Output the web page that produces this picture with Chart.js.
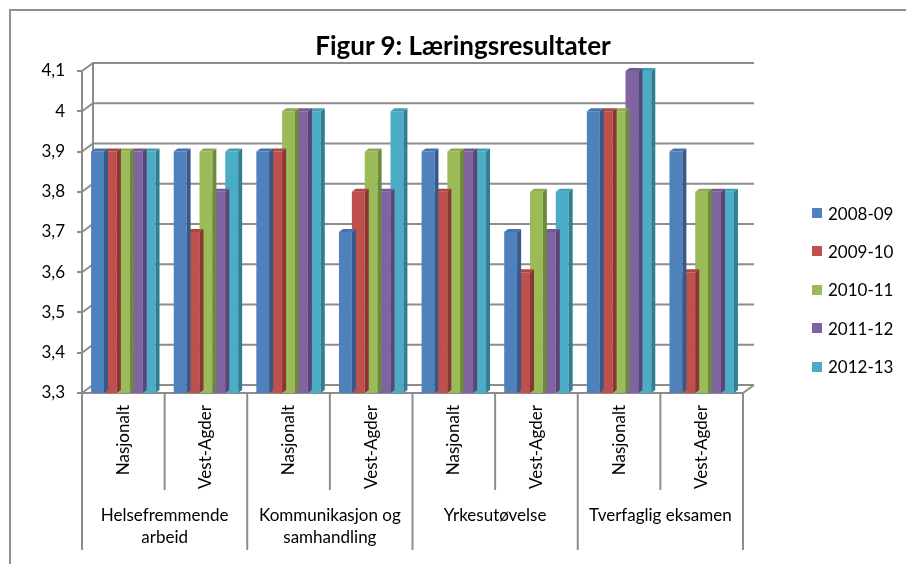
<!DOCTYPE html>
<html>
<head>
<meta charset="utf-8">
<script src="https://cdn.jsdelivr.net/npm/chart.js@4/dist/chart.umd.min.js"></script>
<style>
  body { margin: 0; background: #fff; font-family: Lato, sans-serif; }
  #frame { position: absolute; left: 9px; top: 9px; width: 1000px; height: 1000px;
    border-left: 2px solid #8e8e8e; border-top: 2px solid #8e8e8e; }
  #chart { position: absolute; left: 0; top: 0; }
  #title { position: absolute; left: 263px; width: 400px; top: 32px; text-align: center;
    font: bold 26px Lato, sans-serif; line-height: 26px; color: #000; }
  .leg { position: absolute; left: 812px; height: 20px; display: flex; align-items: center;
    font: 17px Lato, sans-serif; color: #000; }
  .leg span { display: inline-block; width: 10px; height: 10px; margin-right: 6px; }
</style>
</head>
<body>
<div id="frame"></div>
<canvas id="chart" width="906" height="564"></canvas>
<div id="title">Figur 9: Læringsresultater</div>
<div id="legend"></div>
<script>
const subLabels = ['Nasjonalt', 'Vest-Agder', 'Nasjonalt', 'Vest-Agder', 'Nasjonalt', 'Vest-Agder', 'Nasjonalt', 'Vest-Agder']
const groupLabels = [['Helsefremmende', 'arbeid'], ['Kommunikasjon og', 'samhandling'], ['Yrkesutøvelse'], ['Tverfaglig eksamen']]
const seriesNames = ['2008-09', '2009-10', '2010-11', '2011-12', '2012-13']

const v2008 = [3.9, 3.9, 3.9, 3.7, 3.9, 3.7, 4.0, 3.9]
const v2009 = [3.9, 3.7, 3.9, 3.8, 3.8, 3.6, 4.0, 3.6]
const v2010 = [3.9, 3.9, 4.0, 3.9, 3.9, 3.8, 4.0, 3.8]
const v2011 = [3.9, 3.8, 4.0, 3.8, 3.9, 3.7, 4.1, 3.8]
const v2012 = [3.9, 3.9, 4.0, 4.0, 3.9, 3.8, 4.1, 3.8]
const seriesValues = [v2008, v2009, v2010, v2011, v2012]

const yMin = 3.3
const yMax = 4.1
const yStep = 0.1

const frontColors = ['#4F81BD', '#C0504D', '#9BBB59', '#8064A2', '#4BACC6']
const sideColors = ['#37598a', '#8a3633', '#6d8a3c', '#5a4676', '#317d91']
const topColors = ['#4574ae', '#ad4643', '#8dab4e', '#735a94', '#41a0b8']

const gridColor = '#8c8c8c'
const wall = { dx: 11, dy: 8 }
const barDepth = { dx: 4, dy: 3 }

// 3D look: back wall grid, bar sides and tops, two-level x axis
const excel3d = {
  id: 'excel3d',
  beforeDatasetsDraw(chart) {
    const ctx = chart.ctx
    const a = chart.chartArea
    const y = chart.scales.y
    ctx.save()
    ctx.strokeStyle = gridColor
    ctx.lineWidth = 2
    y.ticks.forEach(t => {
      const py = y.getPixelForValue(t.value)
      ctx.beginPath()
      ctx.moveTo(a.left, py)
      ctx.lineTo(a.left + wall.dx, py - wall.dy)
      ctx.lineTo(a.right + wall.dx, py - wall.dy)
      ctx.stroke()
    })
    ctx.beginPath()
    ctx.moveTo(a.left + wall.dx, a.top - wall.dy)
    ctx.lineTo(a.left + wall.dx, a.bottom - wall.dy)
    ctx.moveTo(a.right, a.bottom)
    ctx.lineTo(a.right + wall.dx, a.bottom - wall.dy)
    ctx.stroke()
    ctx.restore()
  },
  afterDatasetDraw(chart, args) {
    const ctx = chart.ctx
    const a = chart.chartArea
    const i = args.index
    ctx.save()
    args.meta.data.forEach(bar => {
      const p = bar.getProps(['x', 'y', 'base', 'width'], true)
      const l = p.x - p.width / 2
      const r = p.x + p.width / 2
      const b = Math.min(p.base, a.bottom)
      ctx.fillStyle = sideColors[i]
      ctx.beginPath()
      ctx.moveTo(r, p.y)
      ctx.lineTo(r + barDepth.dx, p.y - barDepth.dy)
      ctx.lineTo(r + barDepth.dx, b - barDepth.dy)
      ctx.lineTo(r, b)
      ctx.fill()
      ctx.fillStyle = topColors[i]
      ctx.beginPath()
      ctx.moveTo(l, p.y)
      ctx.lineTo(l + barDepth.dx, p.y - barDepth.dy)
      ctx.lineTo(r + barDepth.dx, p.y - barDepth.dy)
      ctx.lineTo(r, p.y)
      ctx.fill()
    })
    ctx.restore()
  },
  afterDraw(chart) {
    const ctx = chart.ctx
    const a = chart.chartArea
    const catW = (a.right - a.left) / subLabels.length
    ctx.save()
    ctx.strokeStyle = gridColor
    ctx.lineWidth = 2
    for (let i = 0; i <= subLabels.length; i++) {
      const bx = a.left + i * catW
      ctx.beginPath()
      ctx.moveTo(bx, a.bottom + 1)
      ctx.lineTo(bx, i % 2 == 0 ? a.bottom + 157 : a.bottom + 97)
      ctx.stroke()
    }
    ctx.fillStyle = '#000'
    ctx.font = '17px Lato'
    ctx.textAlign = 'center'
    ctx.textBaseline = 'middle'
    groupLabels.forEach((lines, g) => {
      const cx = a.left + (g * 2 + 1) * catW
      lines.forEach((txt, k) => {
        ctx.fillText(txt, cx, a.bottom + 123 + k * 22)
      })
    })
    ctx.restore()
  }
}

function fmt(v) {
  return String(Math.round(v * 10) / 10).replace('.', ',')
}

const chart = new Chart(document.getElementById('chart'), {
  type: 'bar',
  data: {
    labels: subLabels,
    datasets: seriesNames.map((name, i) => ({
      label: name,
      data: seriesValues[i],
      backgroundColor: frontColors[i],
      categoryPercentage: 0.78,
      barPercentage: 1
    }))
  },
  options: {
    responsive: false,
    animation: false,
    devicePixelRatio: 1,
    layout: { padding: { top: 71, right: 163, left: 0, bottom: 0 } },
    plugins: { legend: { display: false }, title: { display: false }, tooltip: { enabled: false } },
    scales: {
      x: {
        afterFit: s => { s.height = 171 },
        grid: { display: false, drawTicks: false },
        border: { display: true, color: gridColor, width: 2 },
        ticks: { minRotation: 90, maxRotation: 90, padding: 12, color: '#000', font: { family: 'Lato', size: 17 } }
      },
      y: {
        min: yMin,
        max: yMax,
        afterFit: s => { s.width = 82 },
        grid: { drawOnChartArea: false, color: gridColor, lineWidth: 2, tickLength: 5 },
        border: { display: true, color: gridColor, width: 2 },
        ticks: { stepSize: yStep, padding: 12, color: '#000', font: { family: 'Lato', size: 17 }, callback: v => fmt(v) }
      }
    }
  },
  plugins: [excel3d]
})

var legend = document.getElementById('legend')
seriesNames.forEach((name, i) => {
  legend.innerHTML += `<div class="leg" style="top:${203 + i * 38.4}px"><span style="background:${frontColors[i]}"></span>${name}</div>`
})
</script>
</body>
</html>
